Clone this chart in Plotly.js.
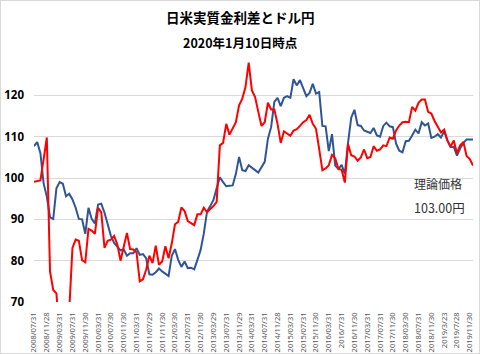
<!DOCTYPE html>
<html><head><meta charset="utf-8">
<script src="https://cdn.plot.ly/plotly-3.0.1.min.js"></script>
<style>
html,body{margin:0;padding:0;background:#fff;}
#wrap{position:relative;width:480px;height:354px;}
#chart{position:absolute;left:0;top:0;width:480px;height:354px;}
#frame{position:absolute;left:0;top:0;width:478px;height:352px;border:1px solid #d9d9d9;pointer-events:none;}
</style></head>
<body>
<div id="wrap"><div id="chart"></div><div id="frame"></div></div>
<script>
// Monthly categories 2008/07 - 2019/12
const months = [
 "2008/07","2008/08","2008/09","2008/10","2008/11","2008/12",
 "2009/01","2009/02","2009/03","2009/04","2009/05","2009/06","2009/07","2009/08","2009/09","2009/10","2009/11","2009/12",
 "2010/01","2010/02","2010/03","2010/04","2010/05","2010/06","2010/07","2010/08","2010/09","2010/10","2010/11","2010/12",
 "2011/01","2011/02","2011/03","2011/04","2011/05","2011/06","2011/07","2011/08","2011/09","2011/10","2011/11","2011/12",
 "2012/01","2012/02","2012/03","2012/04","2012/05","2012/06","2012/07","2012/08","2012/09","2012/10","2012/11","2012/12",
 "2013/01","2013/02","2013/03","2013/04","2013/05","2013/06","2013/07","2013/08","2013/09","2013/10","2013/11","2013/12",
 "2014/01","2014/02","2014/03","2014/04","2014/05","2014/06","2014/07","2014/08","2014/09","2014/10","2014/11","2014/12",
 "2015/01","2015/02","2015/03","2015/04","2015/05","2015/06","2015/07","2015/08","2015/09","2015/10","2015/11","2015/12",
 "2016/01","2016/02","2016/03","2016/04","2016/05","2016/06","2016/07","2016/08","2016/09","2016/10","2016/11","2016/12",
 "2017/01","2017/02","2017/03","2017/04","2017/05","2017/06","2017/07","2017/08","2017/09","2017/10","2017/11","2017/12",
 "2018/01","2018/02","2018/03","2018/04","2018/05","2018/06","2018/07","2018/08","2018/09","2018/10","2018/11","2018/12",
 "2019/01","2019/02","2019/03","2019/04","2019/05","2019/06","2019/07","2019/08","2019/09","2019/10","2019/11","2019/12"
];

// Tick labels shown every 4th month
const tickLabels = ["2008/07/31","2008/11/28","2009/03/31","2009/07/31","2009/11/30","2010/03/31","2010/07/30","2010/11/30",
 "2011/03/31","2011/07/29","2011/11/30","2012/03/30","2012/07/31","2012/11/30","2013/03/29","2013/07/31","2013/11/29",
 "2014/03/31","2014/07/31","2014/11/28","2015/03/31","2015/07/31","2015/11/30","2016/03/31","2016/7/31","2016/11/30",
 "2017/03/31","2017/07/31","2017/11/30","2018/03/30","2018/07/31","2018/11/30","2019/3/23","2019/7/28","2019/11/30"];

// USD/JPY (blue)
const usdjpy = [
 107.7,108.7,106.0,98.7,95.5,90.5,90.1,97.5,99.0,98.6,
 95.6,96.2,94.8,92.8,90.1,90.0,86.5,92.8,90.1,89.0,
 93.6,93.8,91.6,88.7,86.0,84.3,83.3,82.5,82.7,81.2,
 81.8,81.8,83.0,81.4,81.6,80.6,76.7,76.6,77.2,78.1,
 77.4,76.8,76.3,81.2,82.8,80.2,78.5,79.8,78.2,78.3,
 77.9,80.2,82.6,86.6,91.9,93.2,94.7,97.5,100.2,99.0,
 98.0,98.1,98.2,101.0,105.1,101.9,101.7,103.1,102.4,101.9,
 101.3,102.7,103.9,109.5,112.3,118.4,119.4,117.4,119.4,119.8,
 119.4,123.9,122.4,123.7,121.6,119.8,120.6,122.8,120.4,120.8,
 112.6,112.5,106.5,110.6,103.0,102.2,103.2,101.0,108.5,114.6,
 116.5,112.8,112.6,111.5,111.2,110.9,112.1,110.3,110.0,112.6,
 113.4,112.5,112.3,108.3,106.6,106.2,108.9,109.0,110.3,111.7,
 110.8,113.5,112.7,113.2,109.7,110.0,110.6,109.8,111.3,109.1,
 107.5,107.5,105.4,107.2,108.5,109.3,109.3,109.3
];

// Theoretical price from real interest rate differential (red)
const theory = [
 99.1,99.2,99.4,104.5,109.8,77.4,72.9,72.1,62.0,60.0,
 63.0,68.0,83.1,85.1,84.8,80.1,79.6,87.7,87.3,86.5,
 92.8,91.7,83.1,84.8,85.1,86.0,83.9,80.0,83.5,86.7,
 82.8,82.7,82.0,75.0,75.5,77.8,81.2,79.4,83.6,79.0,
 79.8,83.5,80.6,84.2,88.8,89.4,92.9,92.0,89.6,89.0,
 88.6,91.2,91.2,92.8,91.7,92.5,93.2,94.2,107.9,108.5,
 113.1,110.5,111.9,113.5,117.6,119.2,122.0,127.9,121.2,119.6,
 116.0,112.6,113.5,118.2,116.6,116.6,113.1,108.5,111.3,110.7,
 110.2,111.5,111.8,112.6,113.5,114.0,115.3,113.1,111.9,107.0,
 101.9,102.3,103.1,105.6,104.8,102.2,102.0,98.9,108.2,105.5,
 105.2,104.2,105.0,106.9,104.8,105.1,107.7,106.6,106.9,107.9,
 107.7,109.8,109.5,111.5,112.7,113.5,113.6,113.5,117.2,116.3,
 118.2,119.0,119.0,116.0,115.6,113.8,112.4,111.0,111.7,109.1,
 107.6,109.1,106.0,107.9,108.7,105.3,104.6,103.0
];

const yTicks = [70, 80, 90, 100, 110, 120];
const titleText = "日米実質金利差とドル円";
const subtitleText = "2020年1月10日時点";
const noteLabel = "理論価格";
const noteValue = theory[theory.length - 1].toFixed(2) + "円";

const W = 480, H = 354;
const M = {l: 34, r: 7, t: 54, b: 52};
const pw = W - M.l - M.r, ph = H - M.t - M.b;
const px = x => (x - M.l) / pw;
const py = y => (H - M.b - y) / ph;

const tickVals = months.filter((m, k) => k % 4 === 0);

const traces = [
  {x: months, y: usdjpy, type: 'scatter', mode: 'lines', name: 'ドル円',
   line: {color: '#2f5597', width: 2}, hoverinfo: 'skip'},
  {x: months, y: theory, type: 'scatter', mode: 'lines', name: '理論価格',
   line: {color: '#ff0000', width: 2}, hoverinfo: 'skip'}
];

const cjk = '"Noto Sans CJK JP", "Noto Sans", sans-serif';

const layout = {
  width: W, height: H,
  margin: M,
  paper_bgcolor: '#ffffff', plot_bgcolor: '#ffffff',
  showlegend: false,
  xaxis: {
    type: 'category', range: [0, months.length - 1],
    tickmode: 'array', tickvals: tickVals, ticktext: tickLabels,
    tickangle: -90, ticks: '', showgrid: false, zeroline: false,
    showline: false, ticklabelstandoff: 8,
    tickfont: {family: '"Noto Sans", sans-serif', size: 7.5, color: '#595959'}
  },
  yaxis: {
    range: [70, 130], tickmode: 'array', tickvals: yTicks,
    ticks: '', showgrid: true, gridcolor: '#d9d9d9', gridwidth: 1,
    zeroline: false, showline: false, ticklabelstandoff: 9,
    tickfont: {family: '"Noto Sans", sans-serif', size: 11.5, color: '#000000', weight: 'bold'}
  },
  annotations: [
    {text: titleText, xref: 'paper', yref: 'paper', x: px(240), y: py(17),
     xanchor: 'center', yanchor: 'middle', showarrow: false,
     font: {family: cjk, size: 13.5, color: '#000000', weight: 'bold'}},
    {text: subtitleText, xref: 'paper', yref: 'paper', x: px(240), y: py(42),
     xanchor: 'center', yanchor: 'middle', showarrow: false,
     font: {family: cjk, size: 12.5, color: '#000000', weight: 'bold'}},
    {text: noteLabel, xref: 'paper', yref: 'paper', x: px(412), y: py(183),
     xanchor: 'left', yanchor: 'middle', showarrow: false,
     font: {family: cjk, size: 12, color: '#333333'}},
    {text: noteValue, xref: 'paper', yref: 'paper', x: px(412), y: py(207),
     xanchor: 'left', yanchor: 'middle', showarrow: false,
     font: {family: cjk, size: 12.5, color: '#333333'}}
  ]
};

Plotly.newPlot('chart', traces, layout, {displayModeBar: false, staticPlot: true});
</script>
</body></html>
